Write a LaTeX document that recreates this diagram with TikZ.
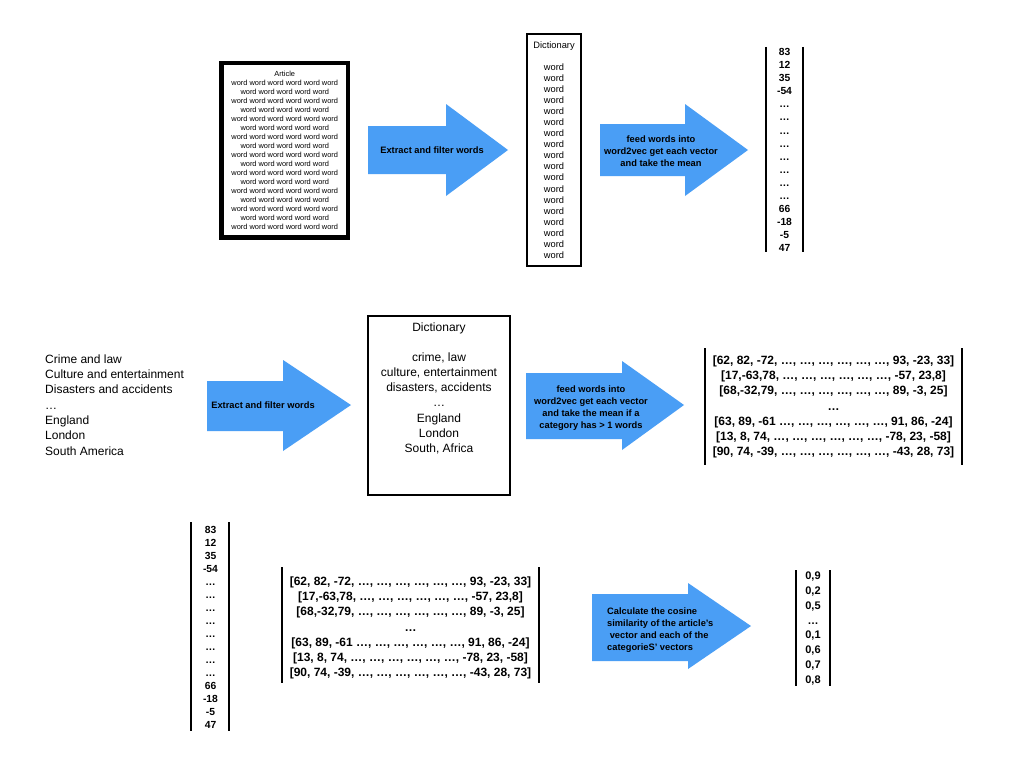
\documentclass[tikz,border=0pt]{standalone}
\usepackage{fontspec}
\setmainfont{Liberation Sans}
\definecolor{arrowblue}{RGB}{74,158,245}
\newcommand\wsix{word word word word word word}
\newcommand\wfive{word word word word word}
\newcommand\mrows{[62, 82, -72, …, …, …, …, …, …, 93, -23, 33]\\{}[17,-63,78, …, …, …, …, …, …, -57, 23,8]\\{}[68,-32,79, …, …, …, …, …, …, 89, -3, 25]\\…\\{}[63, 89, -61 …, …, …, …, …, …, 91, 86, -24]\\{}[13, 8, 74, …, …, …, …, …, …, -78, 23, -58]\\{}[90, 74, -39, …, …, …, …, …, …, -43, 28, 73]}
\newcommand\vrows{83\\12\\35\\-54\\…\\…\\…\\…\\…\\…\\…\\…\\66\\-18\\-5\\47}
\begin{document}
\begin{tikzpicture}[x=1pt,y=-1pt,
  barline/.style={line width=1.8pt},
  arrowshape/.style={fill=arrowblue},
  arrowtext/.style={font=\fontsize{9.3}{12.2}\selectfont\bfseries, align=center, inner sep=0pt},
  vectext/.style={font=\fontsize{10.3}{13.05}\selectfont\bfseries, align=center, inner sep=0pt},
  mattext/.style={font=\fontsize{12}{15.2}\selectfont\bfseries, align=center, inner sep=0pt},
  plaintext/.style={font=\fontsize{12}{15.3}\selectfont, inner sep=0pt},
]
\useasboundingbox[fill=white] (0,0) rectangle (1024,768);

% ---------- Row 1 ----------
\node[draw, line width=4.5pt, minimum width=126.5pt, minimum height=174.5pt, inner sep=0pt,
      align=center, font=\fontsize{7.4}{9}\selectfont] (article) at (284.75,150.25)
  {Article\\\wsix\\\wfive\\\wsix\\\wfive\\\wsix\\\wfive\\\wsix\\\wfive\\\wsix\\\wfive\\\wsix\\\wfive\\\wsix\\\wfive\\\wsix\\\wfive\\\wsix};

\fill[arrowshape] (368,126) -- (446,126) -- (446,104) -- (508,150) -- (446,196) -- (446,174) -- (368,174) -- cycle;
\node[arrowtext] (a1) at (432,150) {Extract and filter words};

\node[draw, line width=1.6pt, minimum width=54pt, minimum height=232pt, inner sep=0pt,
      align=center, font=\fontsize{9.3}{11.05}\selectfont] (dict1) at (554,150)
  {Dictionary\\[11.05pt]word\\word\\word\\word\\word\\word\\word\\word\\word\\word\\word\\word\\word\\word\\word\\word\\word\\word};

\fill[arrowshape] (600,124) -- (685,124) -- (685,104) -- (748,150) -- (685,196) -- (685,176) -- (600,176) -- cycle;
\node[arrowtext] (a2) at (661,151) {feed words into\\word2vec get each vector\\and take the mean};

\node[vectext] (v1) at (784.5,150) {\vrows};
\draw[barline] (766,47) -- (766,252);
\draw[barline] (803,47) -- (803,252);

% ---------- Row 2 ----------
\node[plaintext, anchor=west, align=left] (cats) at (45,405)
  {Crime and law\\Culture and entertainment\\Disasters and accidents\\…\\England\\London\\South America};

\fill[arrowshape] (207,381) -- (283,381) -- (283,360) -- (351,405) -- (283,451) -- (283,431) -- (207,431) -- cycle;
\node[arrowtext] (a3) at (263,405) {Extract and filter words};

\node[draw, line width=1.6pt, minimum width=142pt, minimum height=179pt, inner sep=0pt] (dict2box) at (439,405.5) {};
\node[plaintext, align=center] (dict2) at (439,388.5)
  {Dictionary\\[14.5pt]crime, law\\culture, entertainment\\disasters, accidents\\…\\England\\London\\South, Africa};

\fill[arrowshape] (526,373) -- (622,373) -- (622,361) -- (684,405) -- (622,450) -- (622,439) -- (526,439) -- cycle;
\node[arrowtext] (a4) at (591,408) {feed words into\\word2vec get each vector\\and take the mean if a\\category has > 1 words};

\node[mattext] (m1) at (833.5,407) {\mrows};
\draw[barline] (705,348) -- (705,465);
\draw[barline] (962,348) -- (962,465);

% ---------- Row 3 ----------
\node[vectext] (v2) at (210.5,627.5) {\vrows};
\draw[barline] (191,522) -- (191,731);
\draw[barline] (229,522) -- (229,731);

\node[mattext] (m2) at (410.5,628) {\mrows};
\draw[barline] (282,567) -- (282,683);
\draw[barline] (539,567) -- (539,683);

\fill[arrowshape] (592,594) -- (688,594) -- (688,583) -- (751,626) -- (688,669) -- (688,661) -- (592,661) -- cycle;
\node[arrowtext, align=left, anchor=west] (a5) at (607,630) {Calculate the cosine\\similarity of the article's\\\ vector and each of the\\categorieS' vectors};

\node[font=\fontsize{11}{14.9}\selectfont\bfseries, align=center, inner sep=0pt] (v3) at (813,628.5) {0,9\\0,2\\0,5\\…\\0,1\\0,6\\0,7\\0,8};
\draw[barline] (796,570) -- (796,686);
\draw[barline] (830,570) -- (830,686);
\end{tikzpicture}
\end{document}
